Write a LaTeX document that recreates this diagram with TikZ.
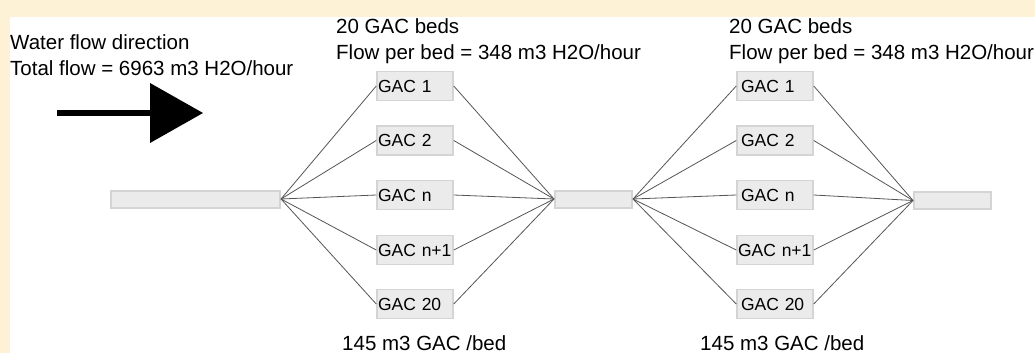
\documentclass[tikz,border=0pt]{standalone}
\usepackage{fontspec}
\setmainfont{Liberation Sans}
\definecolor{cream}{HTML}{FDF2D6}
\definecolor{boxfill}{HTML}{EBEBEB}
\definecolor{boxline}{HTML}{D4D4D4}
\definecolor{conn}{HTML}{555555}
\begin{document}
\begin{tikzpicture}[x=1pt,y=-1pt,
  hdr/.style={anchor=north west,inner sep=0pt,align=left,font=\fontsize{20.5}{26.5}\selectfont},
  foot/.style={anchor=base west,inner sep=0pt,font=\fontsize{20.5}{26}\selectfont},
  gac/.style={draw=boxline,fill=boxfill,line width=1.5pt,rectangle,minimum height=29pt,
    text width=74pt,inner xsep=1pt,inner ysep=0pt,align=left,font=\fontsize{17.5}{20}\selectfont},
  pipe/.style={draw=boxline,fill=boxfill,line width=2pt,rectangle,minimum height=17pt,inner sep=0pt},
  link/.style={draw=conn,line width=0.8pt}]
\useasboundingbox (0,0) rectangle (1035,353);
\fill[cream] (0,0) rectangle (1035,353);
\fill[white] (10,17) rectangle (1035,353);
% texts
\node[hdr] (t1) at (10,34) {Water flow direction\\Total flow = 6963 m3 H2O/hour};
\node[hdr] (t2) at (336,18) {20 GAC beds\\Flow per bed = 348 m3 H2O/hour};
\node[hdr] (t3) at (729,18) {20 GAC beds\\Flow per bed = 348 m3 H2O/hour};
\node[foot] (b1) at (342,350) {145 m3 GAC /bed};
\node[foot] (b2) at (700,350) {145 m3 GAC /bed};
% big arrow
\draw[line width=6pt] (57,113) -- (152,113);
\fill (150,83) -- (203,113) -- (150,143) -- cycle;
% pipes
\node[pipe,minimum width=169pt] (p1) at (195.5,199) {};
\node[pipe,minimum width=77pt] (p2) at (593.5,199) {};
\node[pipe,minimum width=77pt] (p3) at (952.5,200.5) {};
% GAC columns
\foreach \c/\x/\pad in {a/415/0pt,b/775/3pt}{
  \node[gac] (\c1) at (\x,86) {\hspace*{\pad}GAC 1};
  \node[gac] (\c2) at (\x,140.5) {\hspace*{\pad}GAC 2};
  \node[gac] (\c3) at (\x,195) {\hspace*{\pad}GAC n};
  \node[gac] (\c4) at (\x,250) {GAC n+1};
  \node[gac] (\c5) at (\x,304) {\hspace*{\pad}GAC 20};
}
\foreach \i in {1,...,5}{
  \draw[link] (p1.east) -- (a\i.west);
  \draw[link] (a\i.east) -- (p2.west);
  \draw[link] (p2.east) -- (b\i.west);
  \draw[link] (b\i.east) -- (p3.west);
}
\end{tikzpicture}
\end{document}
